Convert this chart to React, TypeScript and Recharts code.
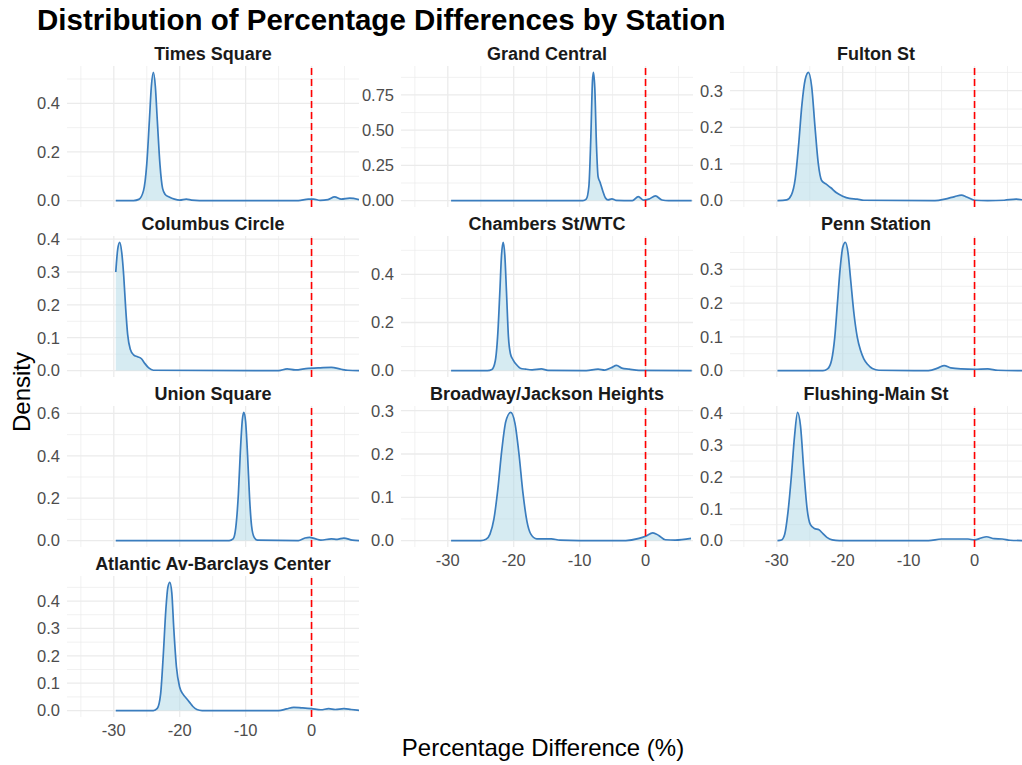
import React from 'react'
import { AreaChart, Area, XAxis, YAxis, CartesianGrid, ReferenceLine } from 'recharts'

// density curves, as [percentage difference, density]
const timesSquare: [number, number][] = [
  [-29.7, 0], [-27, 0], [-26.2, 0.005], [-25.5, 0.04], [-25.0, 0.15], [-24.6, 0.33], [-24.3, 0.47],
  [-24.0, 0.527], [-23.7, 0.47], [-23.4, 0.33], [-23.0, 0.15], [-22.6, 0.05], [-22.2, 0.025],
  [-21.6, 0.015], [-20.8, 0.006], [-20.0, 0.002], [-19.0, 0.006], [-18.2, 0.002], [-17.0, 0],
  [-2.0, 0], [-0.5, 0.006], [0.3, 0.006], [1.3, 0.001], [2.5, 0.004], [3.5, 0.015], [4.5, 0.006],
  [5.8, 0.01], [7.2, 0.004],
]
const grandCentral: [number, number][] = [
  [-29.5, 0], [-9.5, 0], [-9.0, 0.01], [-8.6, 0.1], [-8.3, 0.45], [-8.05, 0.85], [-7.9, 0.91],
  [-7.7, 0.8], [-7.45, 0.4], [-7.2, 0.17], [-6.9, 0.13], [-6.5, 0.07], [-6.1, 0.02], [-5.7, 0.005],
  [-5.1, 0.012], [-4.5, 0.002], [-2.0, 0], [-1.1, 0.028], [-0.3, 0.003], [0.5, 0.01], [1.5, 0.033],
  [2.5, 0.004], [3.5, 0], [7.0, 0],
]
const fultonSt: [number, number][] = [
  [-29.9, 0], [-28.5, 0.002], [-27.8, 0.015], [-27.2, 0.06], [-26.7, 0.15], [-26.2, 0.26],
  [-25.7, 0.33], [-25.2, 0.35], [-24.7, 0.31], [-24.2, 0.2], [-23.7, 0.1], [-23.2, 0.055],
  [-22.5, 0.045], [-21.8, 0.035], [-21.0, 0.022], [-20.0, 0.012], [-19.0, 0.006], [-17.8, 0.004],
  [-16.8, 0.001], [-6.0, 0], [-4.5, 0.004], [-3.0, 0.011], [-2.0, 0.015], [-1.2, 0.01], [0, 0.001],
  [2.0, 0], [4.5, 0.001], [6.3, 0.004], [7.3, 0.002],
]
const columbusCircle: [number, number][] = [
  [-29.7, 0.3], [-29.4, 0.37], [-29.1, 0.39], [-28.8, 0.36], [-28.5, 0.29], [-28.2, 0.19],
  [-27.9, 0.11], [-27.5, 0.065], [-27.0, 0.048], [-26.4, 0.042], [-25.8, 0.036], [-25.3, 0.022],
  [-24.7, 0.008], [-24.0, 0.001], [-5.0, 0], [-3.7, 0.005], [-2.5, 0.002], [-0.5, 0.007],
  [1.0, 0.008], [3.0, 0.01], [4.5, 0.004], [5.5, 0.001], [7.2, 0],
]
const chambersSt: [number, number][] = [
  [-29.5, 0], [-24.0, 0], [-23.3, 0.005], [-22.8, 0.04], [-22.4, 0.16], [-22.1, 0.33], [-21.85, 0.48],
  [-21.6, 0.533], [-21.35, 0.48], [-21.1, 0.33], [-20.8, 0.14], [-20.5, 0.07], [-20.1, 0.045],
  [-19.6, 0.025], [-19.0, 0.01], [-18.2, 0.006], [-17.2, 0.003], [-15.8, 0.007], [-14.8, 0.001],
  [-9.0, 0], [-7.2, 0.006], [-6.2, 0.002], [-5.2, 0.012], [-4.4, 0.022], [-3.6, 0.01], [-2.5, 0.006],
  [-1.0, 0.001], [7.0, 0],
]
const pennStation: [number, number][] = [
  [-29.9, 0], [-23.0, 0], [-22.3, 0.005], [-21.7, 0.03], [-21.2, 0.1], [-20.8, 0.2], [-20.4, 0.3],
  [-20.0, 0.365], [-19.6, 0.38], [-19.2, 0.35], [-18.8, 0.27], [-18.3, 0.17], [-17.8, 0.1],
  [-17.3, 0.06], [-16.8, 0.035], [-16.2, 0.018], [-15.5, 0.006], [-14.5, 0.001], [-7.0, 0],
  [-5.5, 0.008], [-4.6, 0.015], [-3.6, 0.008], [-2.0, 0.005], [0, 0.004], [2.0, 0.005],
  [3.5, 0.001], [7.4, 0],
]
const unionSquare: [number, number][] = [
  [-29.7, 0], [-12.5, 0], [-11.9, 0.008], [-11.5, 0.06], [-11.1, 0.22], [-10.8, 0.42], [-10.5, 0.57],
  [-10.27, 0.605], [-10.0, 0.56], [-9.7, 0.4], [-9.4, 0.2], [-9.1, 0.07], [-8.7, 0.015], [-8.2, 0.002],
  [-2.0, 0], [-1.0, 0.012], [-0.3, 0.015], [0.5, 0.009], [1.4, 0.002], [3.0, 0.008], [3.9, 0.006],
  [4.9, 0.012], [6.2, 0.002], [7.2, 0],
]
const broadwayJackson: [number, number][] = [
  [-29.5, 0], [-25.0, 0], [-24.2, 0.003], [-23.6, 0.015], [-23.0, 0.05], [-22.4, 0.12], [-21.8, 0.21],
  [-21.2, 0.275], [-20.45, 0.296], [-19.8, 0.27], [-19.2, 0.2], [-18.6, 0.11], [-18.0, 0.045],
  [-17.4, 0.015], [-16.5, 0.004], [-14.3, 0.004], [-13.0, 0.001], [-10.0, 0], [-3.0, 0],
  [-1.0, 0.005], [0, 0.01], [1.1, 0.018], [2.0, 0.012], [3.0, 0.002], [4.5, 0.001], [6.9, 0.005],
]
const flushingMain: [number, number][] = [
  [-29.9, 0], [-29.3, 0.002], [-28.8, 0.02], [-28.3, 0.09], [-27.8, 0.2], [-27.3, 0.33], [-26.85, 0.403],
  [-26.4, 0.36], [-25.9, 0.22], [-25.4, 0.1], [-24.9, 0.05], [-24.3, 0.038], [-23.6, 0.034],
  [-23.0, 0.022], [-22.4, 0.01], [-21.6, 0.002], [-20.5, 0], [-7.0, 0], [-5.0, 0.005], [-3.0, 0.005],
  [-1.0, 0.005], [0, 0.002], [1.0, 0.008], [1.8, 0.012], [3.0, 0.006], [4.2, 0.005], [5.4, 0.001],
  [7.4, 0],
]
const atlanticAv: [number, number][] = [
  [-29.7, 0], [-24.0, 0], [-23.4, 0.008], [-22.9, 0.06], [-22.5, 0.2], [-22.1, 0.37], [-21.8, 0.45],
  [-21.5, 0.468], [-21.2, 0.43], [-20.9, 0.3], [-20.5, 0.16], [-20.0, 0.085], [-19.5, 0.06],
  [-19.0, 0.045], [-18.5, 0.03], [-18.0, 0.015], [-17.4, 0.004], [-16.6, 0], [-5.0, 0],
  [-3.8, 0.006], [-2.7, 0.012], [-1.5, 0.01], [0, 0.007], [1.4, 0.003], [2.6, 0.007], [3.6, 0.004],
  [4.9, 0.007], [6.0, 0.004], [7.2, 0.001],
]

const stations = [
  'Times Square', 'Grand Central', 'Fulton St',
  'Columbus Circle', 'Chambers St/WTC', 'Penn Station',
  'Union Square', 'Broadway/Jackson Heights', 'Flushing-Main St',
  'Atlantic Av-Barclays Center',
]
const curves = [
  timesSquare, grandCentral, fultonSt,
  columbusCircle, chambersSt, pennStation,
  unionSquare, broadwayJackson, flushingMain,
  atlanticAv,
]
const yTicks = [
  [0, 0.2, 0.4], [0, 0.25, 0.5, 0.75], [0, 0.1, 0.2, 0.3],
  [0, 0.1, 0.2, 0.3, 0.4], [0, 0.2, 0.4], [0, 0.1, 0.2, 0.3],
  [0, 0.2, 0.4, 0.6], [0, 0.1, 0.2, 0.3], [0, 0.1, 0.2, 0.3, 0.4],
  [0, 0.1, 0.2, 0.3, 0.4],
]
const yDecimals = [1, 2, 1, 1, 1, 1, 1, 1, 1, 1]

const xTicks = [-30, -20, -10, 0]
const xMinor = [-35, -25, -15, -5, 5]
const xDomain: [number, number] = [-37.1, 7.2]

const FONT = '"Liberation Sans", Arial, Helvetica, sans-serif'
const COL_LEFT = [67, 401, 730]
const ROW_TOP = [66, 236, 406, 576]
const PW = 292
const PH = 141
const YW = 60
const XH = 30
const PAD = 12
const GRID = '#EBEBEB'

function Panel({ idx }: { idx: number }) {
  const col = idx % 3
  const row = Math.floor(idx / 3)
  const showX = idx >= 7
  const data = curves[idx].map(([x, y]) => ({ x, y }))
  const peak = Math.max(...data.map((d) => d.y))
  const domain: [number, number] = [-0.05 * peak, 1.05 * peak]
  const ticks = yTicks[idx]
  const step = ticks[1] - ticks[0]
  const minor = [ticks[0] - step / 2, ...ticks.map((t) => t + step / 2)].filter(
    (v) => v > domain[0] && v < domain[1]
  )
  const left = COL_LEFT[col]
  const top = ROW_TOP[row]
  return (
    <>
      <div
        style={{
          position: 'absolute',
          left,
          width: PW,
          top: top - 23,
          textAlign: 'center',
          fontFamily: FONT,
          fontWeight: 'bold',
          fontSize: 18,
          color: '#1a1a1a',
          lineHeight: '22px',
          whiteSpace: 'nowrap',
        }}
      >
        {stations[idx]}
      </div>
      <div style={{ position: 'absolute', left: left - YW, top: top - PAD }}>
        <AreaChart
          width={YW + PW}
          height={PH + PAD + (showX ? XH : PAD)}
          data={data}
          margin={{ top: PAD, right: 0, bottom: showX ? 0 : PAD, left: 0 }}
        >
          <CartesianGrid
            horizontalValues={minor}
            verticalValues={xMinor}
            stroke={GRID}
            strokeWidth={0.7}
          />
          <CartesianGrid
            horizontalValues={ticks}
            verticalValues={xTicks}
            stroke={GRID}
            strokeWidth={1.3}
          />
          <XAxis
            type="number"
            dataKey="x"
            domain={xDomain}
            ticks={xTicks}
            interval={0}
            allowDataOverflow
            hide={!showX}
            height={XH}
            axisLine={false}
            tickLine={false}
            tickSize={0}
            tickMargin={7}
            tick={{ fill: '#4D4D4D', fontSize: 16.5, fontFamily: FONT }}
          />
          <YAxis
            type="number"
            domain={domain}
            ticks={ticks}
            interval={0}
            width={YW}
            axisLine={false}
            tickLine={false}
            tickSize={0}
            tickMargin={7}
            tickFormatter={(v: number) => v.toFixed(yDecimals[idx])}
            tick={{ fill: '#4D4D4D', fontSize: 16.5, fontFamily: FONT }}
          />
          <Area
            type="monotone"
            dataKey="y"
            baseValue={0}
            stroke="#3A7DBE"
            strokeWidth={1.7}
            fill="#ADD8E6"
            fillOpacity={0.5}
            isAnimationActive={false}
            dot={false}
            activeDot={false}
          />
          <ReferenceLine x={0} stroke="#FF0000" strokeWidth={1.6} strokeDasharray="7 4" />
        </AreaChart>
      </div>
    </>
  )
}

export default function App() {
  return (
    <div
      style={{
        position: 'absolute',
        left: 0,
        top: 0,
        width: 1022,
        height: 765,
        background: '#fff',
        overflow: 'hidden',
        fontFamily: FONT,
      }}
    >
      <div
        style={{
          position: 'absolute',
          left: 37,
          top: 3,
          fontSize: 29.5,
          fontWeight: 'bold',
          color: '#000',
          lineHeight: '34px',
          whiteSpace: 'nowrap',
        }}
      >
        Distribution of Percentage Differences by Station
      </div>
      {stations.map((_, i) => (
        <Panel key={i} idx={i} />
      ))}
      <div
        style={{
          position: 'absolute',
          left: 22,
          top: 392,
          transform: 'translate(-50%, -50%) rotate(-90deg)',
          fontSize: 24,
          color: '#000',
          whiteSpace: 'nowrap',
        }}
      >
        Density
      </div>
      <div
        style={{
          position: 'absolute',
          left: 543,
          top: 748,
          transform: 'translate(-50%, -50%)',
          fontSize: 24,
          color: '#000',
          whiteSpace: 'nowrap',
        }}
      >
        Percentage Difference (%)
      </div>
    </div>
  )
}
